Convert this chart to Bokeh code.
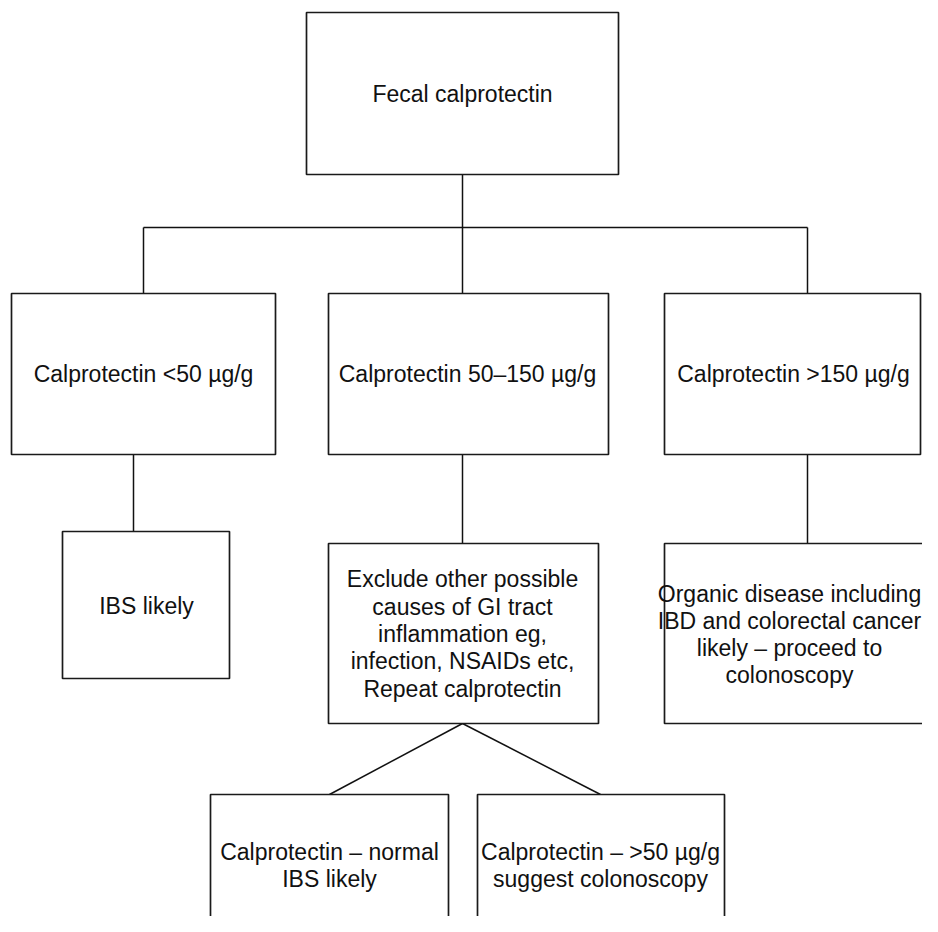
from bokeh.plotting import figure
from bokeh.models import ColumnDataSource, Range1d
from bokeh.embed import file_html
from bokeh.resources import INLINE
from bokeh.core.properties import value

# ---- content ----
labels = [
    "Fecal calprotectin",
    "Calprotectin <50 µg/g",
    "Calprotectin 50–150 µg/g",
    "Calprotectin >150 µg/g",
    "IBS likely",
    "Exclude other possible\ncauses of GI tract\ninflammation eg,\ninfection, NSAIDs etc,\nRepeat calprotectin",
    "Organic disease including\nIBD and colorectal cancer\nlikely – proceed to\ncolonoscopy",
    "Calprotectin – normal\nIBS likely",
    "Calprotectin – >50 µg/g\nsuggest colonoscopy",
]

# ---- layout (reference pixel coordinates) ----
box_left   = [306, 11, 328, 664, 62, 328, 664, 210, 477]
box_right  = [618, 275, 608, 920, 229, 598, 980, 448, 724]
box_top    = [12, 293, 293, 293, 531, 543, 543, 794, 794]
box_bottom = [174, 454, 454, 454, 678, 723, 723, 980, 980]
text_x     = [462, 143, 467, 793, 146, 462, 789, 329, 600]
text_y     = [93, 373, 373, 373, 605, 633.5, 634, 865, 865]

# connectors: (x0, y0, x1, y1)
seg_x0 = [462, 143, 143, 462, 807, 133, 462, 807, 462, 462]
seg_y0 = [174, 227, 227, 227, 227, 454, 454, 454, 723, 723]
seg_x1 = [462, 807, 143, 462, 807, 133, 462, 807, 329, 600]
seg_y1 = [227, 227, 293, 293, 293, 531, 543, 543, 794, 794]

W, H = 922, 916
p = figure(width=W, height=H, output_backend="svg", toolbar_location=None,
           x_range=Range1d(0, W), y_range=Range1d(H, 0),
           min_border=0)
p.axis.visible = False
p.grid.visible = False
p.outline_line_color = None
p.background_fill_color = "white"

p.segment(x0=seg_x0, y0=seg_y0, x1=seg_x1, y1=seg_y1,
          line_color="#111111", line_width=1.5)

src = ColumnDataSource(dict(l=box_left, r=box_right, t=box_top, b=box_bottom,
                            tx=text_x, ty=text_y, lab=labels))
p.quad(left="l", right="r", top="t", bottom="b", source=src,
       fill_color="white", line_color="#1a1a1a", line_width=1.7)
p.text(x="tx", y="ty", text="lab", source=src,
       text_font=value("Liberation Sans"), text_font_size="23px",
       text_align="center", text_baseline="middle", text_line_height=1.05,
       text_color="#111111")

open("out.html", "w").write(file_html(p, INLINE))
